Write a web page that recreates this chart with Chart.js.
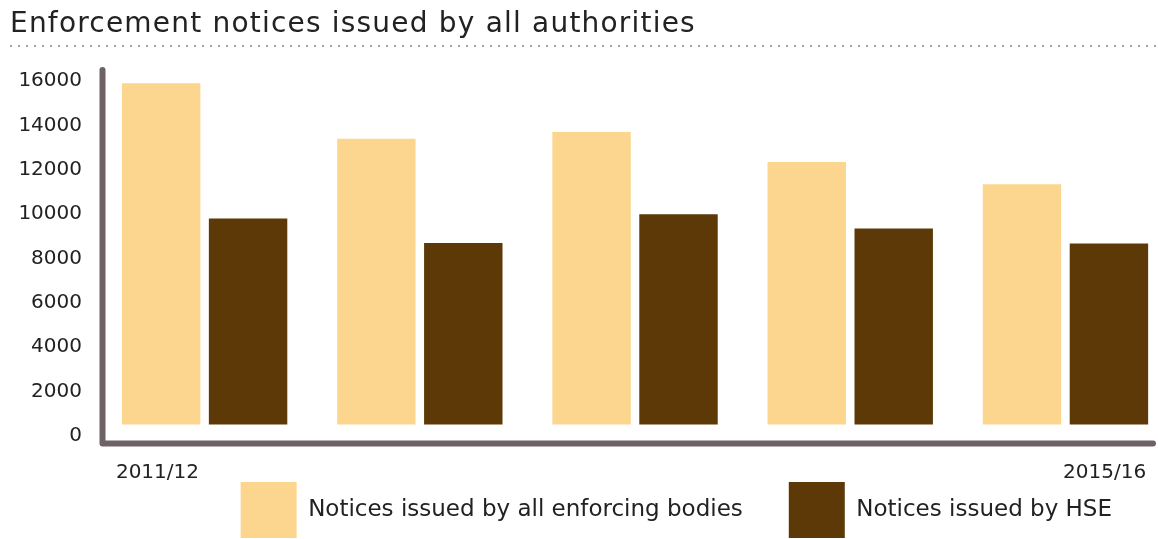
<!DOCTYPE html>
<html>
<head>
<meta charset="utf-8">
<title>Enforcement notices</title>
<script src="https://cdn.jsdelivr.net/npm/chart.js@4.4.1/dist/chart.umd.min.js"></script>
<style>
  body { margin: 0; background: #fff; }
  #wrap { position: relative; width: 1158px; height: 539px; overflow: hidden; }
  #title { position: absolute; left: 10px; top: 9px; font: 28px/28px "DejaVu Sans", sans-serif;
           letter-spacing: 1.2px; color: #222; white-space: nowrap; }
  #rule { position: absolute; left: 10px; right: 0; top: 45px; height: 2px;
          background: repeating-linear-gradient(90deg, #a4a4a4 0 2px, transparent 2px 8px); }
  canvas { position: absolute; left: 0; top: 0; }
</style>
</head>
<body>
<div id="wrap">
  <canvas id="notices" width="1158" height="539"></canvas>
  <div id="title">Enforcement notices issued by all authorities</div>
  <div id="rule"></div>
</div>
<script>
const years = ['2011/12', '2012/13', '2013/14', '2014/15', '2015/16'];
const allBodies = [15900, 13400, 13700, 12350, 11350];
const hseOnly = [9800, 8700, 10000, 9350, 8680];
const yTicks = [0, 2000, 4000, 6000, 8000, 10000, 12000, 14000, 16000];

const LIGHT = '#fcd68e';
const DARK = '#5c3907';
const AXIS = '#6e6266';
const TEXT = '#222222';

// year index on a linear x axis so the groups can run off the right edge a little
const byYear = (values) => values.map((v, i) => ({ x: i, y: v }));

// thick rounded L-shaped axis
const axisLines = {
    id: 'axisLines',
    afterDatasetsDraw(chart) {
        const { ctx, chartArea: a } = chart;
        const x0 = a.left + 5.5, y0 = a.bottom + 7.5;
        ctx.save();
        ctx.strokeStyle = AXIS;
        ctx.lineWidth = 6;
        ctx.lineCap = 'round';
        ctx.lineJoin = 'round';
        ctx.beginPath();
        ctx.moveTo(x0, a.top);
        ctx.lineTo(x0, y0);
        ctx.lineTo(chart.width - 5, y0);
        ctx.stroke();
        ctx.restore();
    }
};

// only the first and last year are labelled, flush with the outer bars
const endLabels = {
    id: 'endLabels',
    afterDraw(chart) {
        const { ctx, chartArea: a } = chart;
        const first = chart.getDatasetMeta(0).data[0];
        const last = chart.getDatasetMeta(1).data[years.length - 1];
        const y = a.bottom + 37;
        ctx.save();
        ctx.font = '20px "DejaVu Sans"';
        ctx.fillStyle = TEXT;
        ctx.textBaseline = 'middle';
        ctx.textAlign = 'left';
        ctx.fillText(years[0], first.x - first.width / 2 - 6, y);
        ctx.textAlign = 'right';
        ctx.fillText(years[years.length - 1], last.x + last.width / 2 - 2, y);
        ctx.restore();
    }
};

new Chart(document.getElementById('notices'), {
    type: 'bar',
    data: {
        datasets: [
            { label: 'Notices issued by all enforcing bodies', data: byYear(allBodies), backgroundColor: LIGHT, base: 520 },
            { label: 'Notices issued by HSE', data: byYear(hseOnly), backgroundColor: DARK, base: 520 }
        ]
    },
    options: {
        responsive: false,
        animation: false,
        borderWidth: 0,
        categoryPercentage: 0.808,
        barPercentage: 0.902,
        layout: { padding: { top: 70, right: 0, bottom: 0, left: 0 } },
        plugins: {
            tooltip: { enabled: false },
            legend: {
                position: 'bottom',
                align: 'end',
                fullSize: false,
                maxHeight: 103,
                labels: {
                    boxWidth: 56,
                    boxHeight: 56,
                    padding: 46,
                    color: TEXT,
                    font: { family: 'DejaVu Sans', size: 23 }
                }
            }
        },
        scales: {
            x: {
                type: 'linear',
                display: false,
                offset: false,
                min: -0.5,
                max: 4.43,
                grid: { display: false },
                // one tick per year keeps the bar width tied to the year spacing
                afterBuildTicks: (scale) => { scale.ticks = years.map((_, i) => ({ value: i })); }
            },
            y: {
                min: 0,
                max: 16496,
                border: { display: false },
                grid: { display: false, drawTicks: false },
                afterFit: (scale) => { scale.width = 97; },
                afterBuildTicks: (scale) => { scale.ticks = yTicks.map(v => ({ value: v })); },
                ticks: {
                    padding: 15,
                    color: TEXT,
                    font: { family: 'DejaVu Sans', size: 20 },
                    callback: (v) => String(v)
                }
            }
        }
    },
    plugins: [axisLines, endLabels]
});
</script>
</body>
</html>
